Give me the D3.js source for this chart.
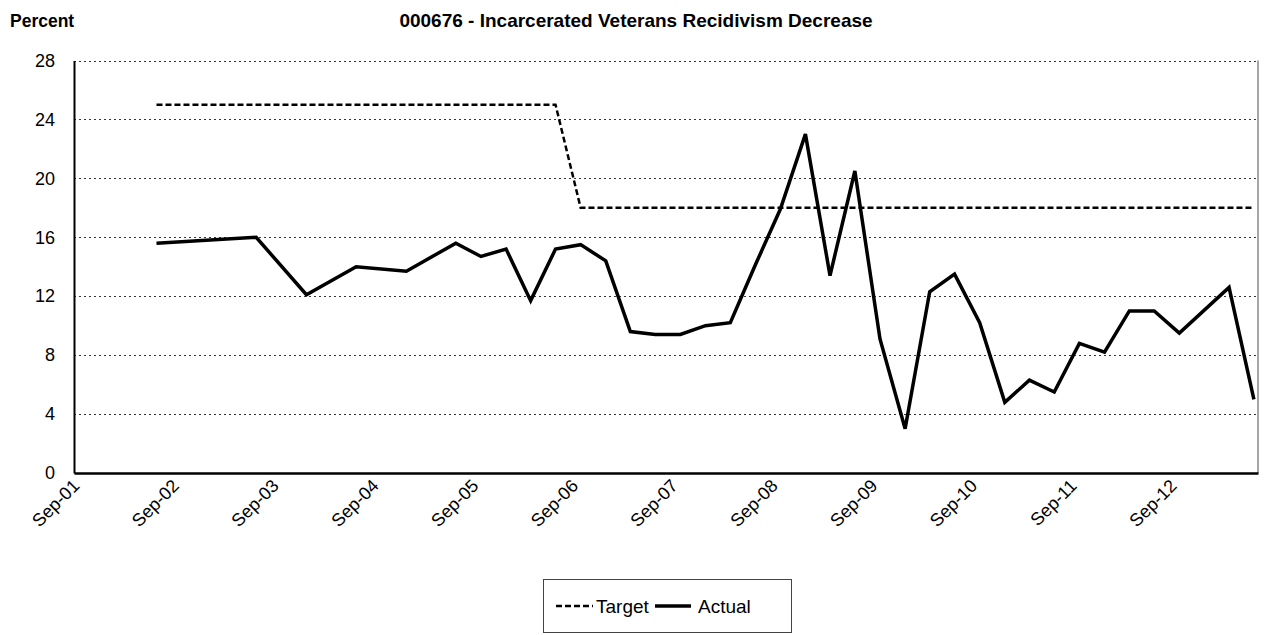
<!DOCTYPE html>
<html>
<head>
<meta charset="utf-8">
<script src="https://cdn.jsdelivr.net/npm/d3@7"></script>
<style>
  body { margin: 0; background: #fff; }
  svg { display: block; font-family: "Liberation Sans", Arial, sans-serif; }
</style>
</head>
<body>
<div id="chart"></div>
<script>
// Données
const actualDates = [
  '2002-06-30', '2003-06-30', '2003-12-31', '2004-06-30', '2004-12-31',
  '2005-06-30', '2005-09-30', '2005-12-31', '2006-03-31', '2006-06-30',
  '2006-09-30', '2006-12-31', '2007-03-31', '2007-06-30', '2007-09-30',
  '2007-12-31', '2008-03-31', '2008-06-30', '2008-09-30', '2008-12-31',
  '2009-03-31', '2009-06-30', '2009-09-30', '2009-12-31', '2010-03-31',
  '2010-06-30', '2010-09-30', '2010-12-31', '2011-03-31', '2011-06-30',
  '2011-09-30', '2011-12-31', '2012-03-31', '2012-06-30', '2012-09-30',
  '2013-03-31', '2013-06-30'
];
const actualValues = [
  15.6, 16.0, 12.1, 14.0, 13.7,
  15.6, 14.7, 15.2, 11.7, 15.2,
  15.5, 14.4, 9.6, 9.4, 9.4,
  10.0, 10.2, 14.1, 17.9, 23.0,
  13.4, 20.5, 9.1, 3.0, 12.3,
  13.5, 10.2, 4.8, 6.3, 5.5,
  8.8, 8.2, 11.0, 11.0, 9.5,
  12.6, 5.0
];
const targetDates = ['2002-06-30', '2006-06-30', '2006-09-30', '2013-06-30'];
const targetValues = [25, 25, 18, 18];

const yTicks = [0, 4, 8, 12, 16, 20, 24, 28];
const xTickLabels = ['Sep-01', 'Sep-02', 'Sep-03', 'Sep-04', 'Sep-05', 'Sep-06',
  'Sep-07', 'Sep-08', 'Sep-09', 'Sep-10', 'Sep-11', 'Sep-12'];

const chartTitle = '000676 - Incarcerated Veterans Recidivism Decrease';
const yTitle = 'Percent';

const parseDate = d3.timeParse('%Y-%m-%d');
const parseTick = d3.timeParse('%b-%y');

const actual = actualDates.map((d, i) => ({ date: parseDate(d), value: actualValues[i] }));
const target = targetDates.map((d, i) => ({ date: parseDate(d), value: targetValues[i] }));
const tickDates = xTickLabels.map(t => parseTick(t));

// Dimensions
const W = 1269, H = 635;
const plot = { left: 74, right: 1258, top: 60.5, bottom: 473 };

const svg = d3.select('#chart').append('svg')
  .attr('width', W)
  .attr('height', H);

// Échelles
const x = d3.scaleTime()
  .domain([new Date(2001, 8, 1), new Date(2013, 6, 15)])
  .range([plot.left, plot.right]);

const y = d3.scaleLinear()
  .domain([0, 28])
  .range([plot.bottom, plot.top]);

// Titres
svg.append('text')
  .attr('x', 10)
  .attr('y', 27)
  .style('font-size', '17.5px')
  .style('font-weight', '700')
  .text(yTitle);

svg.append('text')
  .attr('x', 636)
  .attr('y', 27)
  .attr('text-anchor', 'middle')
  .style('font-size', '19px')
  .style('font-weight', '700')
  .text(chartTitle);

// Grille pointillée
svg.append('g')
  .selectAll('line')
  .data(yTicks.filter(v => v > 0))
  .join('line')
  .attr('x1', plot.left)
  .attr('x2', plot.right)
  .attr('y1', d => Math.round(y(d)) + 0.5)
  .attr('y2', d => Math.round(y(d)) + 0.5)
  .attr('stroke', '#333')
  .attr('stroke-width', 1)
  .attr('stroke-dasharray', '2,3');

// Bord droit
svg.append('line')
  .attr('x1', plot.right).attr('x2', plot.right)
  .attr('y1', plot.top).attr('y2', plot.bottom)
  .attr('stroke', '#888')
  .attr('stroke-width', 1.5);

// Axe Y
const yAxis = svg.append('g')
  .attr('transform', `translate(${plot.left},0)`)
  .call(d3.axisLeft(y).tickValues(yTicks).tickSize(0).tickPadding(19));
yAxis.select('.domain').attr('stroke', '#000').attr('stroke-width', 2);
yAxis.selectAll('text')
  .style('font-size', '18px')
  .style('font-family', '"Liberation Sans", Arial, sans-serif')
  .attr('fill', '#000');

// Axe X
const xAxis = svg.append('g')
  .attr('transform', `translate(0,${plot.bottom})`)
  .call(d3.axisBottom(x).tickValues(tickDates).tickFormat(d3.timeFormat('%b-%y')).tickSize(0));
xAxis.select('.domain').attr('stroke', '#000').attr('stroke-width', 2.5);
xAxis.selectAll('text')
  .style('font-size', '18px')
  .style('font-family', '"Liberation Sans", Arial, sans-serif')
  .attr('fill', '#000')
  .attr('text-anchor', 'end')
  .attr('dy', null)
  .attr('y', 0)
  .attr('transform', 'translate(6,14) rotate(-45)');

// Lignes
const line = d3.line()
  .x(d => x(d.date))
  .y(d => y(d.value));

svg.append('path')
  .datum(target)
  .attr('fill', 'none')
  .attr('stroke', '#000')
  .attr('stroke-width', 2.5)
  .attr('stroke-dasharray', '6,3')
  .attr('d', line);

svg.append('path')
  .datum(actual)
  .attr('fill', 'none')
  .attr('stroke', '#000')
  .attr('stroke-width', 3.5)
  .attr('stroke-linejoin', 'miter')
  .attr('d', line);

// Légende
const legend = svg.append('g').attr('transform', 'translate(543,579)');
legend.append('rect')
  .attr('x', 0.5).attr('y', 0.5)
  .attr('width', 248).attr('height', 53)
  .attr('fill', '#fff')
  .attr('stroke', '#444')
  .attr('stroke-width', 1);

legend.append('line')
  .attr('x1', 13).attr('x2', 50)
  .attr('y1', 27).attr('y2', 27)
  .attr('stroke', '#000')
  .attr('stroke-width', 2.5)
  .attr('stroke-dasharray', '6,3');
legend.append('text')
  .attr('x', 53).attr('y', 34)
  .style('font-size', '19px')
  .text('Target');

legend.append('line')
  .attr('x1', 112).attr('x2', 148)
  .attr('y1', 27).attr('y2', 27)
  .attr('stroke', '#000')
  .attr('stroke-width', 3.5);
legend.append('text')
  .attr('x', 155).attr('y', 34)
  .style('font-size', '19px')
  .text('Actual');
</script>
</body>
</html>
